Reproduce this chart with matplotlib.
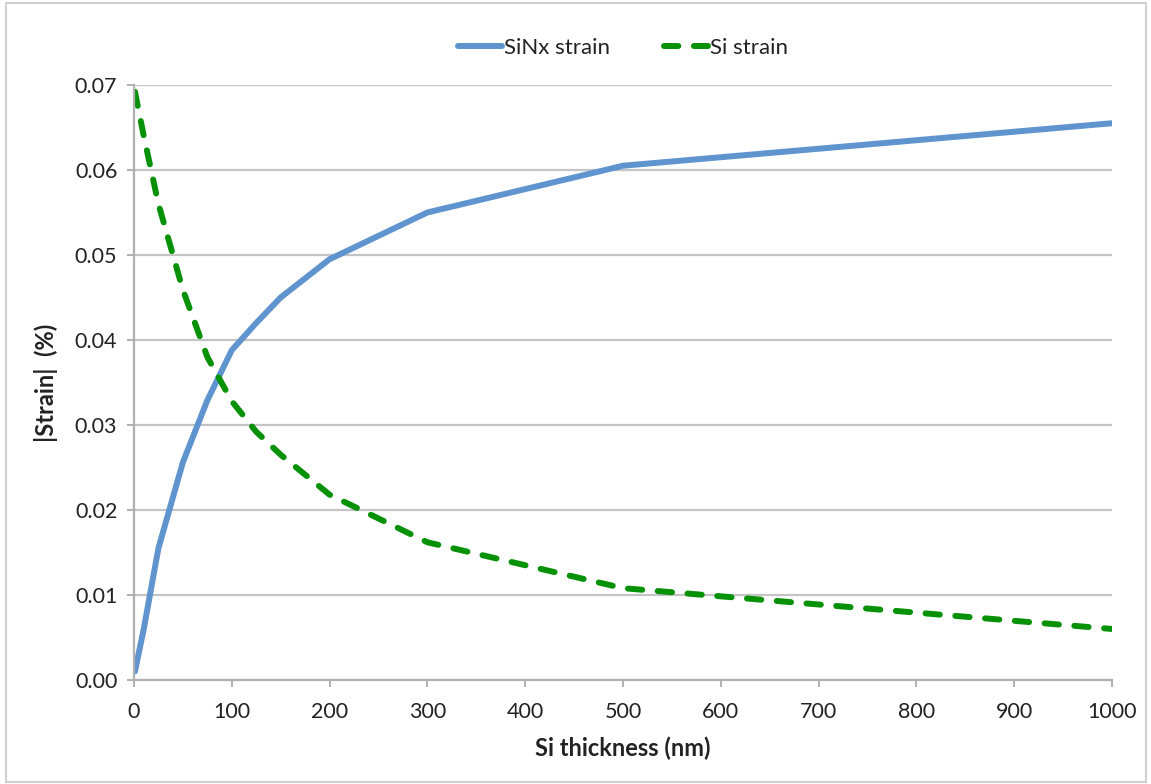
import matplotlib
matplotlib.use("Agg")
import matplotlib.pyplot as plt
from matplotlib.patches import Rectangle

# Silicon layer thickness (nm)
thickness = [1, 10, 25, 50, 75, 100, 125, 150, 200, 300, 500, 1000]
# Absolute strain (%) in the SiNx film and in the Si layer
sinx_strain = [0.0010, 0.0060, 0.0155, 0.0256, 0.0329, 0.0388, 0.0420, 0.0450,
               0.0495, 0.0550, 0.0605, 0.0655]
si_strain = [0.0692, 0.0640, 0.0560, 0.0459, 0.0380, 0.0328, 0.0292, 0.0265,
             0.0218, 0.0162, 0.0108, 0.0060]

x_ticks = list(range(0, 1001, 100))
y_ticks = [0.00, 0.01, 0.02, 0.03, 0.04, 0.05, 0.06, 0.07]

plt.rcParams['font.family'] = ['Lato', 'DejaVu Sans']

fig = plt.figure(figsize=(11.51, 7.84), dpi=100)
ax = fig.add_axes([0.1164, 0.1327, 0.8497, 0.7589])

ax.plot(thickness, sinx_strain, color='#5f94cf', lw=4.3,
        solid_capstyle='round', solid_joinstyle='round', label='SiNx strain')
ax.plot(thickness, si_strain, color='#079107', lw=4.3, linestyle=(0, (2.4, 2.6)),
        dash_capstyle='round', dash_joinstyle='round', label='Si strain')

ax.set_xlim(0, 1000)
ax.set_ylim(0, 0.07)
ax.set_xticks(x_ticks)
ax.set_yticks(y_ticks)
ax.set_yticklabels([f'{v:.2f}' for v in y_ticks])

ax.yaxis.grid(True, color='#c4c4c4', lw=1.6)
ax.set_axisbelow(True)
for side in ('top', 'right'):
    ax.spines[side].set_visible(False)
for side in ('left', 'bottom'):
    ax.spines[side].set_color('#b0b0b0')
    ax.spines[side].set_linewidth(1.6)

ax.tick_params(axis='both', colors='#b0b0b0', length=5, width=1.4,
               labelcolor='#222222', labelsize=15.5)
ax.tick_params(axis='y', pad=7)
ax.tick_params(axis='x', pad=11)

ax.set_xlabel('Si thickness (nm)', fontsize=17, fontweight='bold',
              color='#222222', labelpad=10)
ax.set_ylabel('|Strain|  (%)', fontsize=17, fontweight='bold',
              color='#222222', labelpad=12)

leg = ax.legend(loc='lower center', bbox_to_anchor=(0.5, 1.012), ncol=2,
                frameon=False, fontsize=16, handlelength=2.0,
                handletextpad=0.1, columnspacing=2.4)
for t in leg.get_texts():
    t.set_color('#222222')

# Light frame around the whole chart area
fig.patches.append(Rectangle((0.005, 0.003), 0.991, 0.993, transform=fig.transFigure,
                             fill=False, edgecolor='#d0d0d0', lw=1.5))

fig.savefig('out.png', dpi=100, facecolor='white')
